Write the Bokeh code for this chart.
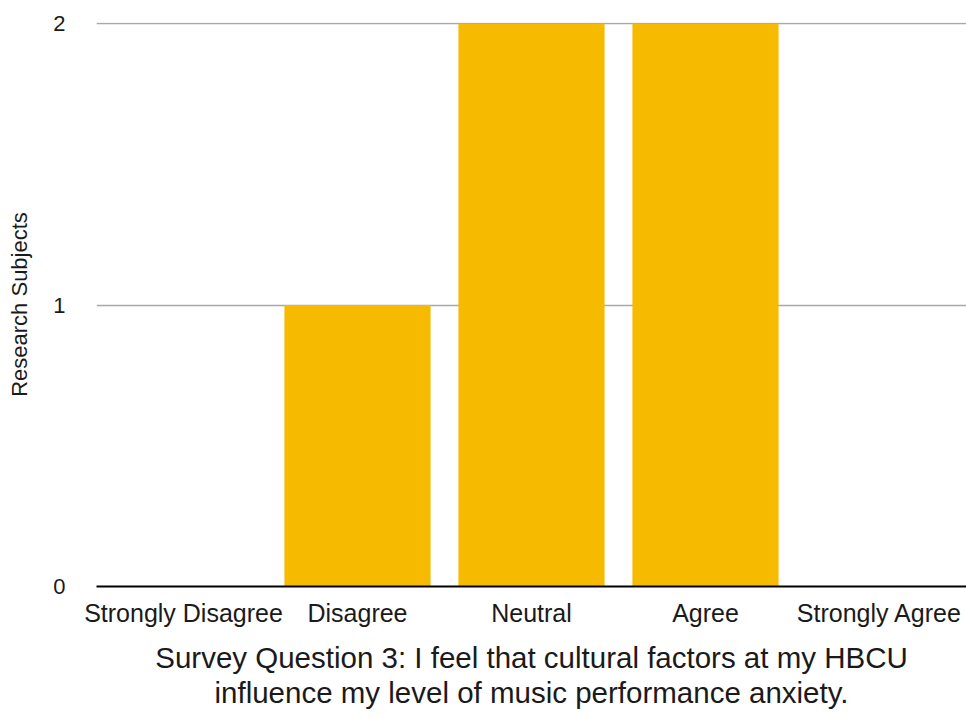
from bokeh.plotting import figure
from bokeh.models import Range1d, Title, FixedTicker
from bokeh.embed import file_html
from bokeh.resources import INLINE

# Survey responses
categories = ["Strongly Disagree", "Disagree", "Neutral", "Agree", "Strongly Agree"]
counts = [0, 1, 2, 2, 0]
y_ticks = [0, 1, 2]

title_lines = [
    "Survey Question 3: I feel that cultural factors at my HBCU",
    "influence my level of music performance anxiety.",
]

FONT = "Liberation Sans"
TEXT = "#1a1a1a"
BAR = "#F6BA00"

p = figure(
    x_range=categories,
    y_range=Range1d(0, 2.004),
    width=966,
    height=718,
    output_backend="svg",
    toolbar_location=None,
    min_border_left=96,
    min_border_right=0,
    min_border_top=22,
    min_border_bottom=131,
)
p.outline_line_color = None
p.background_fill_color = "white"
p.border_fill_color = "white"

p.vbar(x=categories, top=counts, width=0.84, fill_color=BAR, line_color=None)

# y axis
p.yaxis.ticker = FixedTicker(ticks=y_ticks)
p.yaxis.axis_line_color = None
p.yaxis.major_tick_line_color = None
p.yaxis.minor_tick_line_color = None
p.yaxis.major_tick_out = 0
p.yaxis.major_tick_in = 0
p.yaxis.major_label_standoff = 31
p.yaxis.major_label_text_font = FONT
p.yaxis.major_label_text_font_size = "22px"
p.yaxis.major_label_text_color = TEXT
p.yaxis.axis_label = "Research Subjects"
p.yaxis.axis_label_text_font = FONT
p.yaxis.axis_label_text_font_size = "22px"
p.yaxis.axis_label_text_font_style = "normal"
p.yaxis.axis_label_text_color = TEXT
p.yaxis.axis_label_standoff = 18

# x axis: black baseline, no ticks
p.xaxis.axis_line_color = "black"
p.xaxis.axis_line_width = 2
p.xaxis.major_tick_line_color = None
p.xaxis.major_tick_out = 0
p.xaxis.major_tick_in = 0
p.xaxis.major_label_standoff = 12
p.xaxis.major_label_text_font = FONT
p.xaxis.major_label_text_font_size = "25px"
p.xaxis.major_label_text_color = TEXT

# grid
p.xgrid.grid_line_color = None
p.ygrid.ticker = FixedTicker(ticks=[1, 2])
p.ygrid.grid_line_color = "#a8a8a8"
p.ygrid.grid_line_width = 1.5

# two-line caption below the chart
caption = Title(
    text="\n".join(title_lines),
    align="center",
    text_align="center",
    text_font=FONT,
    text_font_size="29.5px",
    text_font_style="normal",
    text_color=TEXT,
    text_line_height=1.05,
    standoff=19,
)
p.add_layout(caption, "below")

open("out.html", "w").write(file_html(p, INLINE))
